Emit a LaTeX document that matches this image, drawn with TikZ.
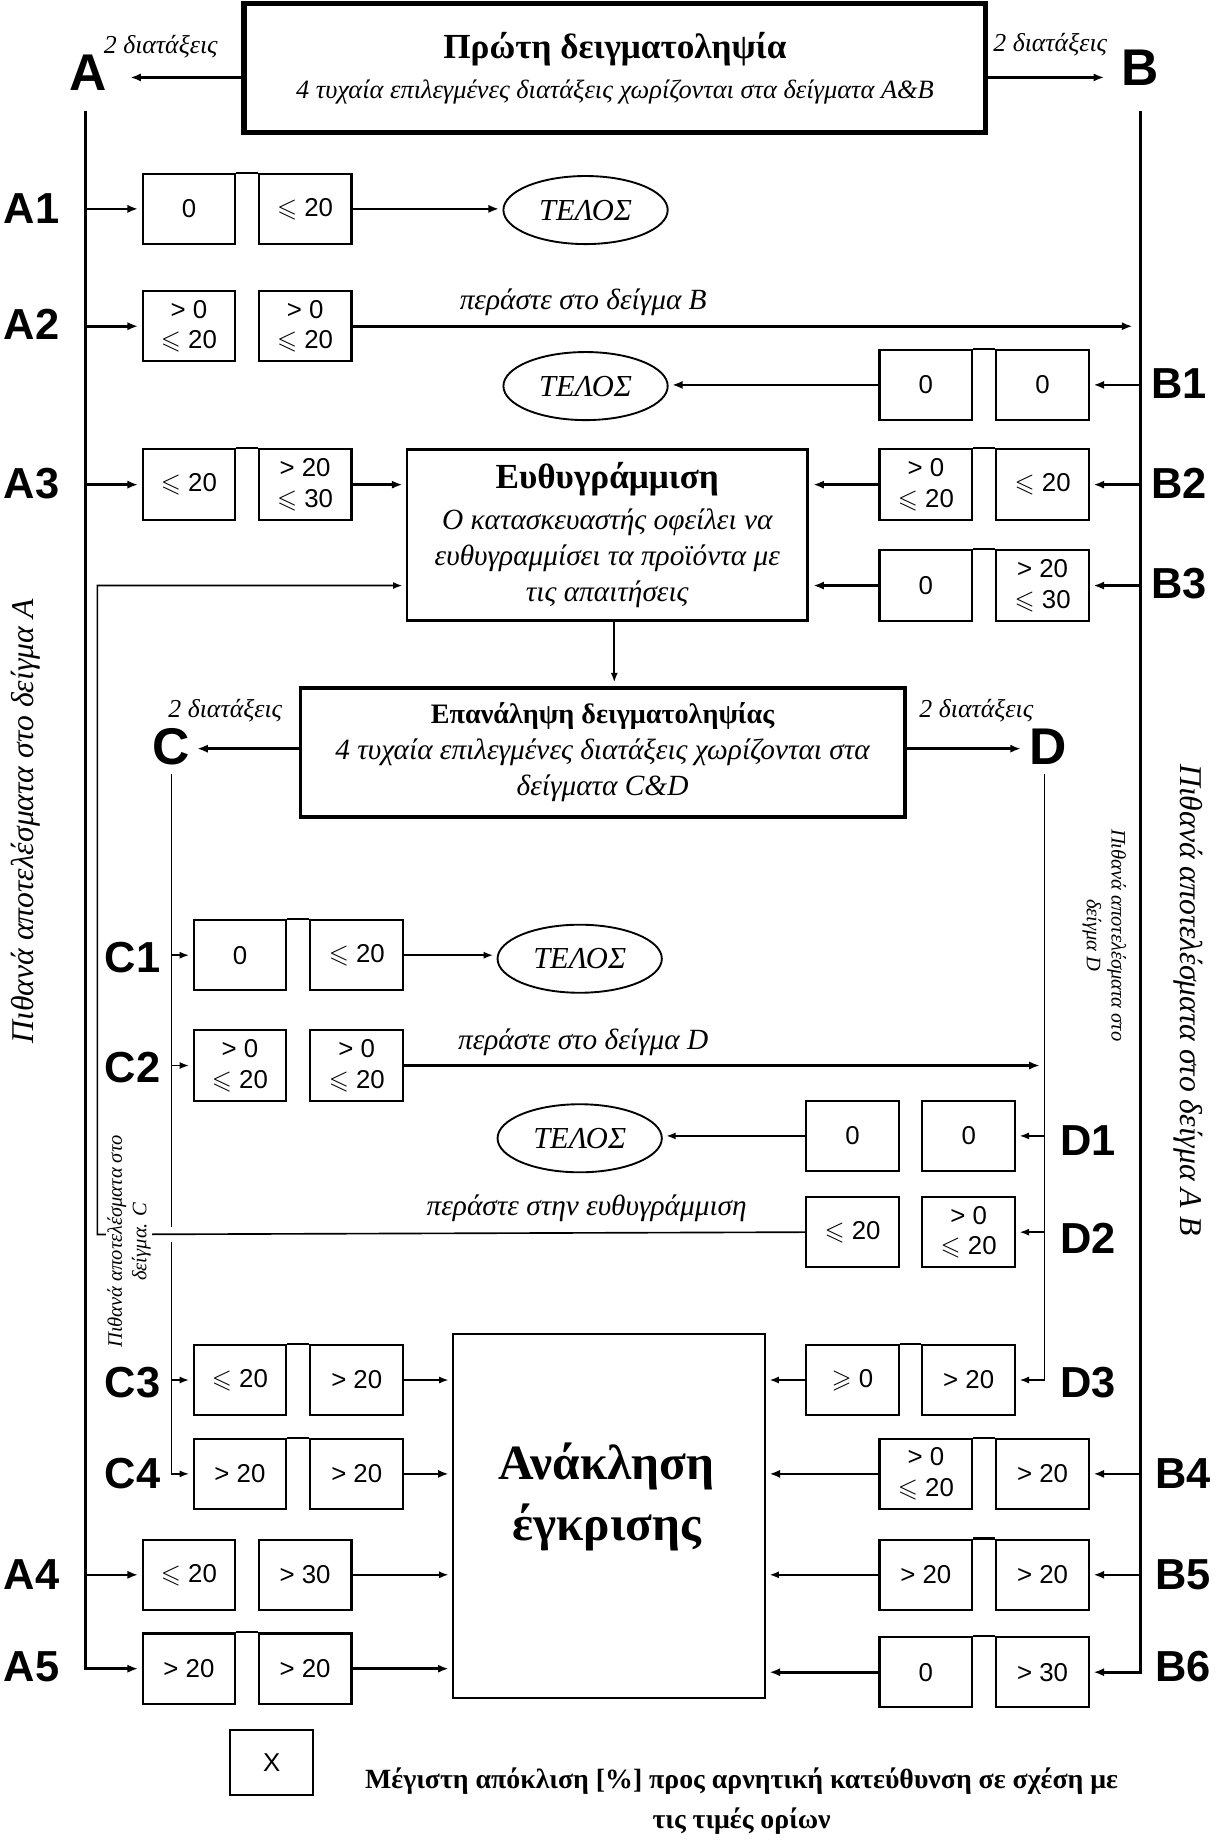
\documentclass[tikz,border=0pt]{standalone}
\usepackage{amssymb}
\usepackage{fontspec}
\setmainfont{Liberation Serif}
\setsansfont{Liberation Sans}
\usepackage{tikz}
\usetikzlibrary{arrows.meta,shapes.geometric}
\tikzset{
  ar/.style={-{Latex[length=9pt,width=7pt]},line width=2.2pt},
  tar/.style={-{Latex[length=8pt,width=6pt]},line width=1.4pt},
  cell/.style={draw,line width=1.8pt,minimum width=79pt,minimum height=60pt,inner sep=0pt,align=center,font=\sffamily\fontsize{22}{26}\selectfont},
  telos/.style={ellipse,draw,line width=1.6pt,minimum width=140pt,minimum height=58pt,inner sep=0pt,font=\itshape\fontsize{26}{30}\selectfont},
  rowlab/.style={font=\sffamily\bfseries\fontsize{37}{40}\selectfont},
  letlab/.style={inner sep=2pt,font=\sffamily\bfseries\fontsize{44}{48}\selectfont},
  ndiat/.style={font=\itshape\fontsize{22}{24}\selectfont},
  pass/.style={font=\itshape\fontsize{25}{28}\selectfont},
  side/.style={font=\itshape\fontsize{27}{30}\selectfont},
  smallside/.style={align=center,font=\itshape\fontsize{17.5}{21}\selectfont}
}
\newcommand{\les}{$\leqslant$}
\newcommand{\ges}{$\geqslant$}
\newcommand{\cellpair}[6]{%
  \node[cell] (#1-l) at (#2,#4) {#5};
  \node[cell] (#1-r) at (#3,#4) {#6};
}

\begin{document}
\begin{tikzpicture}[x=1pt,y=-1pt]
\useasboundingbox (0,0) rectangle (1037,1568);

\node[draw,line width=4.5pt,minimum width=632pt,minimum height=110pt,align=center,font=\itshape\fontsize{22.5}{34}\selectfont] (first) at (524,58)
  {{\upshape\bfseries\fontsize{30}{34}\selectfont Πρώτη δειγματοληψία}\\4 τυχαία επιλεγμένες διατάξεις χωρίζονται στα δείγματα A\&B};
\node[draw,line width=2.2pt,minimum width=341pt,minimum height=146pt,align=center,font=\itshape\fontsize{25}{31}\selectfont] (euth) at (517.5,456)
  {{\upshape\bfseries\fontsize{30}{34}\selectfont Ευθυγράμμιση}\\[4pt]Ο κατασκευαστής οφείλει να\\ευθυγραμμίσει τα προϊόντα με\\τις απαιτήσεις};
\node[draw,line width=3.2pt,minimum width=515pt,minimum height=110pt,align=center,font=\itshape\fontsize{25}{31}\selectfont] (rep) at (513.5,641)
  {{\upshape\bfseries\fontsize{24}{28}\selectfont Επανάληψη δειγματοληψίας}\\4 τυχαία επιλεγμένες διατάξεις χωρίζονται στα\\δείγματα C\&D};
\node[draw,line width=1.5pt,minimum width=266pt,minimum height=310pt] (recall) at (519,1292) {};
\node[align=center,font=\bfseries\fontsize{42}{52}\selectfont] (recalltxt) at (517,1276) {Ανάκληση\\έγκρισης};

\node[letlab] (nA) at (75,62) {A};
\node[letlab] (nB) at (972,58) {B};
\node[letlab] (nC) at (146,636) {C};
\node[letlab] (nD) at (893,636) {D};
\node[ndiat] (dA) at (137,40) {2 διατάξεις};
\node[ndiat] (dB) at (895,38) {2 διατάξεις};
\node[ndiat] (dC) at (192,606) {2 διατάξεις};
\node[ndiat] (dD) at (832,606) {2 διατάξεις};

\foreach \n/\x/\y in {A1/27/178,A2/27/276,A3/27/412,A4/27/1342,A5/27/1420,
  B1/1005/327,B2/1005/412,B3/1005/497,B4/1008/1256,B5/1008/1342,B6/1008/1420,
  C1/113/816,C2/113/910,C3/113/1178,C4/113/1256,D1/927/972,D2/927/1055,D3/927/1178}
  \node[rowlab] (l\n) at (\x,\y) {\n};

\cellpair{a1}{161}{260}{178}{0}{\les\ 20}
\cellpair{a2}{161}{260}{278}{> 0\\\les\ 20}{> 0\\\les\ 20}
\cellpair{a3}{161}{260}{413}{\les\ 20}{> 20\\\les\ 30}
\cellpair{a4}{161}{260}{1342}{\les\ 20}{> 30}
\cellpair{a5}{161}{260}{1422}{> 20}{> 20}
\cellpair{b1}{789}{888.5}{328}{0}{0}
\cellpair{b2}{789}{888.5}{413}{> 0\\\les\ 20}{\les\ 20}
\cellpair{b3}{789}{888.5}{499}{0}{> 20\\\les\ 30}
\cellpair{b4}{789}{888.5}{1256}{> 0\\\les\ 20}{> 20}
\cellpair{b5}{789}{888.5}{1342}{> 20}{> 20}
\cellpair{b6}{789}{888.5}{1425}{0}{> 30}
\cellpair{c1}{204.5}{304}{814}{0}{\les\ 20}
\cellpair{c2}{204.5}{304}{908}{> 0\\\les\ 20}{> 0\\\les\ 20}
\cellpair{c3}{204.5}{304}{1176}{\les\ 20}{> 20}
\cellpair{c4}{204.5}{304}{1256}{> 20}{> 20}
\cellpair{d1}{726.5}{825.5}{968}{0}{0}
\cellpair{d2}{726.5}{825.5}{1050}{\les\ 20}{> 0\\\les\ 20}
\cellpair{d3}{726.5}{825.5}{1176}{\ges\ 0}{> 20}
\foreach \r in {a1,a3,a5,b1,b2,b3,b4,b5,b6,c1,c3,c4,d3}
  \draw[line width=1.8pt] (\r-l.north east) -- (\r-r.north west);

\node[telos] (e1) at (499,179) {ΤΕΛΟΣ};
\node[telos] (e2) at (499,329) {ΤΕΛΟΣ};
\node[telos] (e3) at (494,817) {ΤΕΛΟΣ};
\node[telos] (e4) at (494,970) {ΤΕΛΟΣ};

\node[draw,line width=1.8pt,minimum width=71pt,minimum height=55pt,font=\sffamily\fontsize{22}{26}\selectfont] (key) at (231.5,1502) {X};
\node[align=center,font=\bfseries\fontsize{23.7}{34}\selectfont] (keytxt) at (632,1535) {Μέγιστη απόκλιση [\%] προς αρνητική κατεύθυνση σε σχέση με\\τις τιμές ορίων};

\node[pass] (pB) at (497,258) {περάστε στο δείγμα B};
\node[pass] (pD) at (497,888) {περάστε στο δείγμα D};
\node[pass] (pE) at (500,1030) {περάστε στην ευθυγράμμιση};
\node[side,rotate=90] (sA) at (22,700) {Πιθανά αποτελέσματα στο δείγμα A};
\node[side,rotate=-90] (sB) at (1013,852) {Πιθανά αποτελέσματα στο δείγμα A B};
\node[smallside,rotate=-90] (sD) at (941,797) {Πιθανά αποτελέσματα στο\\δείγμα D};

\coordinate (atop) at (73,95);
\coordinate (btop) at (972,95);
\coordinate (ctop) at (146,660);
\coordinate (dtop) at (890,660);
\coordinate (fb) at (83,1052);

\draw[ar,shorten >=18pt] ([yshift=-8pt]first.west) -- ([yshift=-8pt]first.west -| nA.east);
\draw[ar,shorten >=13pt] ([yshift=-8pt]first.east) -- ([yshift=-8pt]first.east -| nB.west);
\draw[ar,shorten >=4pt] ([yshift=3pt]rep.west) -- ([yshift=3pt]rep.west -| nC.east);
\draw[ar,shorten >=5pt] ([yshift=3pt]rep.east) -- ([yshift=3pt]rep.east -| nD.west);

\draw[ar,shorten >=3pt] (atop) |- (a5-l.west);
\foreach \r in {a1,a2,a3,a4}
  \draw[ar,shorten >=3pt] (\r-l.west -| atop) -- (\r-l.west);
\draw[ar,shorten >=3pt] (btop) |- (b6-r.east);
\foreach \r in {b1,b2,b3,b4,b5}
  \draw[ar,shorten >=3pt] (\r-r.east -| btop) -- (\r-r.east);
\draw[tar,shorten >=3pt] (ctop) |- (c4-l.west);
\foreach \r in {c1,c2,c3}
  \draw[tar,shorten >=3pt] (\r-l.west -| ctop) -- (\r-l.west);
\draw[tar,shorten >=3pt] (dtop) |- (d3-r.east);
\foreach \r in {d1,d2}
  \draw[tar,shorten >=3pt] (\r-r.east -| dtop) -- (\r-r.east);

\draw[ar,shorten >=3pt] (a1-r.east) -- (a1-r.east -| e1.west);
\draw[ar,shorten >=7pt] (a2-r.east) -- (a2-r.east -| btop);
\draw[ar,shorten >=3pt] (b1-l.west) -- (b1-l.west -| e2.east);
\draw[ar,shorten >=3pt] (a3-r.east) -- (a3-r.east -| euth.west);
\draw[ar,shorten >=4pt] (b2-l.west) -- (b2-l.west -| euth.east);
\draw[ar,shorten >=4pt] (b3-l.west) -- (b3-l.west -| euth.east);
\draw[tar,shorten >=3pt] ([xshift=6pt]euth.south) -- ([xshift=6pt]euth.south |- rep.north);
\draw[tar,shorten >=3pt] (c1-r.east) -- (c1-r.east -| e3.west);
\draw[ar,shorten >=4pt] (c2-r.east) -- (c2-r.east -| dtop);
\draw[tar,shorten >=3pt] (d1-l.west) -- (d1-l.west -| e4.east);

\draw[white,line width=12pt] ([xshift=-8pt]ctop |- fb) -- ([xshift=8pt]ctop |- fb);
\draw[tar,shorten >=3pt] (d2-l.west) -- (fb) |- (b3-l -| euth.west);
\node[smallside,rotate=90,fill=white,inner sep=1pt] (sC) at (110,1058) {Πιθανά αποτελέσματα στο\\δείγμα. C};

\draw[tar,shorten >=3pt] (c3-r.east) -- (c3-r.east -| recall.west);
\draw[ar,shorten >=3pt] (c4-r.east) -- (c4-r.east -| recall.west);
\draw[tar,shorten >=3pt] (a4-r.east) -- (a4-r.east -| recall.west);
\draw[ar,shorten >=3pt] (a5-r.east) -- (a5-r.east -| recall.west);
\draw[tar,shorten >=3pt] (d3-l.west) -- (d3-l.west -| recall.east);
\draw[ar,shorten >=3pt] (b4-l.west) -- (b4-l.west -| recall.east);
\draw[tar,shorten >=3pt] (b5-l.west) -- (b5-l.west -| recall.east);
\draw[ar,shorten >=3pt] (b6-l.west) -- (b6-l.west -| recall.east);
\end{tikzpicture}
\end{document}
